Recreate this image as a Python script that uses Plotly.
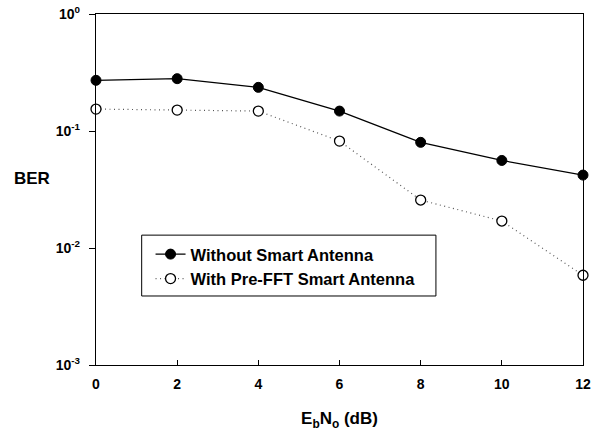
import plotly.graph_objects as go

ebno = [0, 2, 4, 6, 8, 10, 12]
ber_without = [0.271, 0.28, 0.236, 0.148, 0.080, 0.056, 0.042]
ber_prefft = [0.154, 0.151, 0.148, 0.082, 0.0257, 0.017, 0.00585]
x_ticks = [0, 2, 4, 6, 8, 10, 12]
y_ticks = [1e-3, 1e-2, 1e-1, 1]
y_ticktext = ["10<sup>-3</sup>", "10<sup>-2</sup>", "10<sup>-1</sup>", "10<sup>0</sup>"]

FONT = "Arial, Liberation Sans, sans-serif"

fig = go.Figure()
fig.add_trace(go.Scatter(
    x=ebno, y=ber_without, mode="lines+markers", name="Without Smart Antenna",
    line=dict(color="black", width=1.3),
    marker=dict(symbol="circle", size=10, color="black", line=dict(color="black", width=1)),
    cliponaxis=False,
))
fig.add_trace(go.Scatter(
    x=ebno, y=ber_prefft, mode="lines+markers", name="With Pre-FFT Smart Antenna",
    line=dict(color="#555", width=1.2, dash="1px,3.5px"),
    marker=dict(symbol="circle", size=10, color="white", line=dict(color="black", width=1.3)),
    cliponaxis=False,
))

fig.update_layout(
    width=600, height=431,
    margin=dict(l=96, r=17, t=14, b=66, autoexpand=False),
    paper_bgcolor="white", plot_bgcolor="white",
    font=dict(family=FONT, size=14, color="black", weight="bold"),
    showlegend=True,
    legend=dict(
        x=0.112, y=0.365, xanchor="left", yanchor="top",
        borderwidth=0, bgcolor="rgba(0,0,0,0)",
        font=dict(family=FONT, size=16.5, color="black", weight="bold"),
        tracegroupgap=0, itemwidth=30,
    ),
    shapes=[dict(
        type="rect", xref="paper", yref="paper",
        x0=0.0938, x1=0.698, y0=0.1966, y1=0.370,
        line=dict(color="black", width=1), fillcolor="white", layer="below",
    )],
    xaxis=dict(
        range=[0, 12], tickvals=x_ticks, ticks="inside", ticklen=5, tickcolor="black",
        showline=True, linecolor="black", linewidth=1.3, mirror=True,
        showgrid=False, zeroline=False, ticklabelstandoff=6, automargin=False,
        tickfont=dict(family=FONT, size=14, weight="bold"),
        title=dict(text="E<sub>b</sub>N<sub>o</sub> (dB)", standoff=21,
                   font=dict(family=FONT, size=17, weight="bold")),
    ),
    yaxis=dict(
        type="log", range=[-3, 0], tickvals=y_ticks, ticktext=y_ticktext,
        ticks="outside", ticklen=6, tickcolor="black",
        showline=True, linecolor="black", linewidth=1.3, mirror=True,
        showgrid=False, zeroline=False, ticklabelstandoff=6, automargin=False,
        tickfont=dict(family=FONT, size=14, weight="bold"),
    ),
    annotations=[dict(
        text="BER", x=-0.131, y=0.53, xref="paper", yref="paper",
        xanchor="center", yanchor="middle", showarrow=False,
        font=dict(family=FONT, size=17, weight="bold"),
    )],
)

fig.write_html("out.html")
